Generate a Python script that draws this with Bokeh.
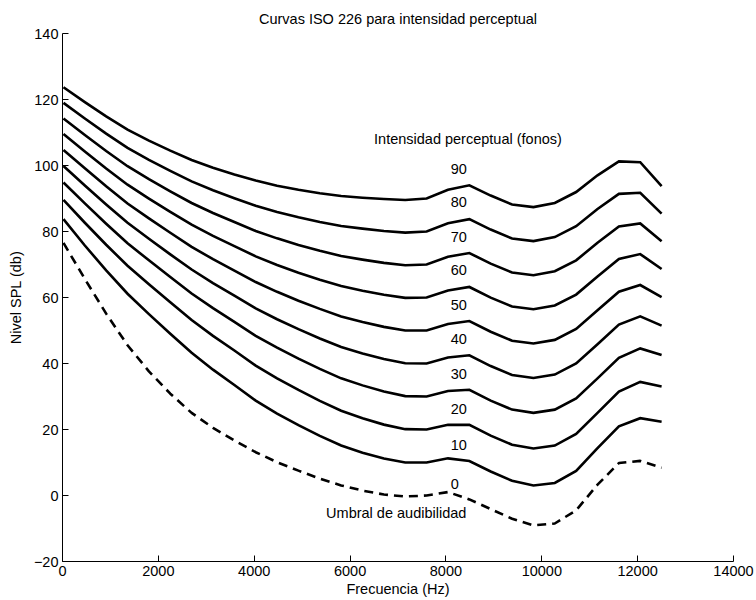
from bokeh.plotting import figure
from bokeh.models import Range1d, FixedTicker, ColumnDataSource, Title
from bokeh.core.properties import value
from bokeh.embed import file_html
from bokeh.resources import INLINE

# Frequencies as plotted (29 ISO 226 bands, spread evenly from 20 Hz to 12500 Hz)
freq = [20, 466, 911, 1357, 1803, 2249, 2694, 3140, 3586, 4031, 4477, 4923, 5369, 5814,
        6260, 6706, 7151, 7597, 8043, 8489, 8934, 9380, 9826, 10271, 10717, 11163, 11609,
        12054, 12500]

spl_0 = [76.55, 65.62, 55.12, 45.54, 37.63, 30.86, 25.03, 20.51, 16.65, 13.12, 10.09, 7.54, 5.11, 3.06,
         1.49, 0.30, -0.30, -0.01, 1.04, -1.19, -4.11, -7.05, -9.03, -8.49, -4.48, 3.28, 9.83, 10.48, 8.38]
spl_10 = [83.75, 75.76, 68.21, 61.14, 54.96, 49.01, 43.24, 38.13, 33.48, 28.77, 24.84, 21.33, 18.05, 15.14,
          12.98, 11.18, 9.99, 10.00, 11.26, 10.43, 7.27, 4.45, 3.04, 3.80, 7.46, 14.35, 20.98, 23.43, 22.33]
spl_20 = [89.58, 82.65, 75.98, 69.62, 64.02, 58.55, 53.19, 48.38, 43.94, 39.37, 35.51, 31.99, 28.69, 25.67,
          23.43, 21.48, 20.10, 20.01, 21.46, 21.40, 18.15, 15.38, 14.26, 15.14, 18.64, 25.02, 31.52, 34.43, 33.04]
spl_30 = [94.85, 88.52, 82.36, 76.45, 71.26, 66.20, 61.22, 56.76, 52.64, 48.38, 44.78, 41.47, 38.36, 35.50,
          33.37, 31.49, 30.11, 30.01, 31.65, 32.04, 28.76, 26.03, 25.05, 26.02, 29.42, 35.48, 41.74, 44.57, 42.55]
spl_40 = [99.85, 93.94, 88.17, 82.63, 77.79, 73.08, 68.48, 64.37, 60.59, 56.70, 53.41, 50.40, 47.58, 44.98,
          43.05, 41.34, 40.06, 40.01, 41.82, 42.51, 39.23, 36.51, 35.61, 36.65, 40.01, 45.83, 51.80, 54.28, 51.49]
spl_50 = [104.72, 99.15, 93.69, 88.49, 83.96, 79.61, 75.36, 71.61, 68.17, 64.68, 61.72, 59.04, 56.55, 54.27,
          52.59, 51.10, 49.98, 50.01, 51.99, 52.88, 49.62, 46.91, 46.05, 47.15, 50.48, 56.11, 61.76, 63.78, 60.14]
spl_60 = [109.51, 104.23, 99.08, 94.18, 89.96, 85.94, 82.05, 78.65, 75.56, 72.47, 69.86, 67.53, 65.39, 63.45,
          62.05, 60.82, 59.89, 60.01, 62.15, 63.19, 59.96, 57.26, 56.43, 57.57, 60.89, 66.36, 71.67, 73.16, 68.63]
spl_70 = [114.26, 109.25, 104.38, 99.78, 95.87, 92.18, 88.64, 85.60, 82.86, 80.17, 77.92, 75.94, 74.16, 72.58,
          71.47, 70.50, 69.78, 70.01, 72.32, 73.47, 70.28, 67.58, 66.76, 67.95, 71.26, 76.59, 81.54, 82.46, 77.04]
spl_80 = [118.99, 114.23, 109.65, 105.34, 101.72, 98.36, 95.17, 92.48, 90.09, 87.82, 85.92, 84.31, 82.89, 81.68,
          80.86, 80.17, 79.67, 80.01, 82.48, 83.74, 80.59, 77.88, 77.08, 78.31, 81.62, 86.81, 91.41, 91.74, 85.41]
spl_90 = [123.71, 119.20, 114.88, 110.87, 107.55, 104.51, 101.67, 99.33, 97.29, 95.43, 93.89, 92.65, 91.60, 90.76,
          90.24, 89.84, 89.55, 90.01, 92.65, 94.00, 90.89, 88.18, 87.38, 88.66, 91.96, 97.02, 101.26, 100.99, 93.75]

phon_labels = ["0", "10", "20", "30", "40", "50", "60", "70", "80", "90"]
label_x = [8100] * 10
label_y = [3.4, 15.4, 26.2, 36.8, 47.4, 57.7, 68.4, 78.4, 88.8, 99.0]

x_ticks = [0, 2000, 4000, 6000, 8000, 10000, 12000, 14000]
y_ticks = [-20, 0, 20, 40, 60, 80, 100, 120, 140]

FONT = "Liberation Sans"
FS = "14.5px"

p = figure(width=756, height=600, output_backend="svg", toolbar_location=None,
           x_range=Range1d(0, 14000), y_range=Range1d(-20, 140),
           min_border_left=62, min_border_right=23, min_border_top=33, min_border_bottom=39)

# small empty spacer between frame and title
p.add_layout(Title(text=" ", text_font_size="4px", standoff=0), "above")
p.add_layout(Title(text="Curvas ISO 226 para intensidad perceptual", align="center",
                   text_font=FONT, text_font_size=FS, text_font_style="normal",
                   text_color="black", standoff=0), "above")

p.outline_line_color = None
p.background_fill_color = "white"
p.border_fill_color = "white"
p.grid.visible = False

for ax in (p.xaxis[0], p.yaxis[0]):
    ax.axis_line_color = "black"
    ax.axis_line_width = 1
    ax.major_tick_line_color = "black"
    ax.major_tick_in = 6
    ax.major_tick_out = 0
    ax.minor_tick_line_color = None
    ax.major_label_text_font = FONT
    ax.major_label_text_font_size = FS
    ax.major_label_text_color = "black"
    ax.axis_label_text_font = FONT
    ax.axis_label_text_font_size = FS
    ax.axis_label_text_font_style = "normal"
    ax.axis_label_text_color = "black"

p.xaxis.ticker = FixedTicker(ticks=x_ticks)
p.yaxis.ticker = FixedTicker(ticks=y_ticks)
p.yaxis.major_label_overrides = {-20: "\u221220"}
p.xaxis.axis_label = "Frecuencia (Hz)"
p.yaxis.axis_label = "Nivel SPL (db)"
p.xaxis.major_label_standoff = 4
p.xaxis.axis_label_standoff = 2
p.yaxis.major_label_standoff = 4
p.yaxis.axis_label_standoff = 7

curves = [spl_10, spl_20, spl_30, spl_40, spl_50, spl_60, spl_70, spl_80, spl_90]
for c in curves:
    p.line(freq, c, line_color="black", line_width=2.6, line_join="miter")
p.line(freq, spl_0, line_color="black", line_width=2.6, line_dash="9 6")

src = ColumnDataSource(dict(x=label_x, y=label_y, t=phon_labels))
p.text(x="x", y="y", text="t", source=src, text_align="left", text_baseline="middle",
       text_font=value(FONT), text_font_size=value(FS), text_color="black")

p.text(x=[6500], y=[108], text=["Intensidad perceptual (fonos)"], text_align="left",
       text_baseline="middle", text_font=value(FONT), text_font_size=value(FS), text_color="black")
p.text(x=[5500], y=[-5.2], text=["Umbral de audibilidad"], text_align="left",
       text_baseline="middle", text_font=value(FONT), text_font_size=value(FS), text_color="black")

open("out.html", "w").write(file_html(p, INLINE))
